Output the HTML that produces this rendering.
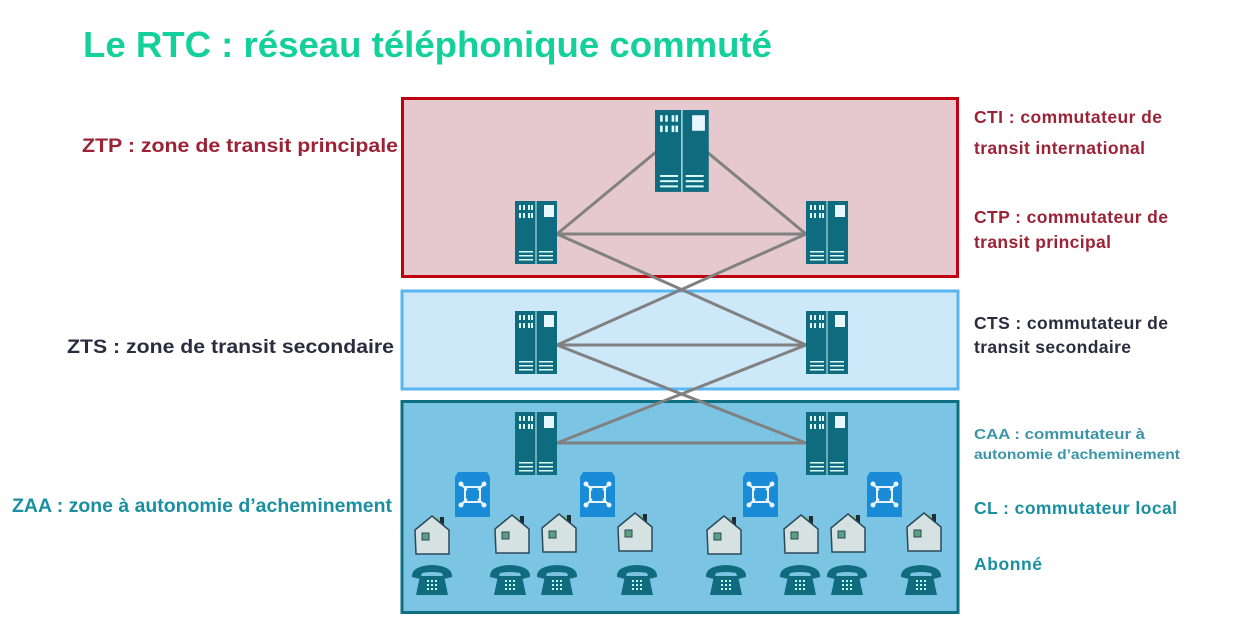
<!DOCTYPE html>
<html><head><meta charset="utf-8"><style>
html,body{margin:0;padding:0;background:#fff;width:1243px;height:627px;overflow:hidden}
text{font-family:"Liberation Sans",sans-serif;font-weight:bold}
</style></head><body>
<svg width="1243" height="627" viewBox="0 0 1243 627" xmlns="http://www.w3.org/2000/svg">
<defs>
<g id="srv">
 <rect x="0" y="0" width="42" height="63" fill="#0f6b7e"/>
 <line x1="21" y1="0" x2="21" y2="63" stroke="#cfeff5" stroke-width="1"/>
 <g fill="#dff" >
  <rect x="4" y="4" width="2" height="5"/><rect x="8" y="4" width="2" height="5"/><rect x="13" y="4" width="2" height="5"/><rect x="16" y="4" width="2" height="5"/>
  <rect x="4" y="12" width="2" height="5"/><rect x="8" y="12" width="2" height="5"/><rect x="13" y="12" width="2" height="5"/><rect x="16" y="12" width="2" height="5"/>
  <rect x="29" y="4" width="10" height="12" fill="#e8f6ff"/>
  <rect x="4" y="50" width="14" height="1.5"/><rect x="4" y="54" width="14" height="1.5"/><rect x="4" y="58" width="14" height="1.5"/>
  <rect x="24" y="50" width="14" height="1.5"/><rect x="24" y="54" width="14" height="1.5"/><rect x="24" y="58" width="14" height="1.5"/>
 </g>
</g>
<g id="cl">
 <path d="M3 0 H32 L35 5 V45 H0 V5 Z" fill="#1a8bd6"/>
 <g stroke="#e8f4ff" stroke-width="2" fill="none">
  <path d="M10 15 H25 V30 H10 Z" />
  <line x1="6" y1="12" x2="12" y2="18"/><line x1="29" y1="12" x2="23" y2="18"/>
  <line x1="6" y1="33" x2="12" y2="27"/><line x1="29" y1="33" x2="23" y2="27"/>
 </g>
 <g fill="#e8f4ff"><circle cx="6" cy="12" r="2.5"/><circle cx="29" cy="12" r="2.5"/><circle cx="6" cy="33" r="2.5"/><circle cx="29" cy="33" r="2.5"/></g>
</g>
<g id="house">
 <rect x="27" y="2" width="4" height="12" fill="#1f2b35"/>
 <rect x="23" y="3" width="4" height="8" fill="#6fbf9f"/>
 <path d="M2 15 L19 1 L36 15 V39 H3 Z" fill="#d6e2e2" stroke="#2a4a5a" stroke-width="1.5"/>
 <rect x="9" y="18" width="7" height="7" fill="#5aa27f" stroke="#2a4a5a" stroke-width="1"/>
</g>
<g id="phone">
 <path d="M0 12 Q-1 1 20 0 Q41 1 40 12 L32 14 L30 8 Q20 6 10 8 L8 14 Z" fill="#106b7e"/>
 <path d="M8 11 H32 L36 30 H4 Z" fill="#106b7e"/>
 <g fill="#bfe"><rect x="15" y="15" width="2" height="2"/><rect x="19" y="15" width="2" height="2"/><rect x="23" y="15" width="2" height="2"/>
 <rect x="15" y="19" width="2" height="2"/><rect x="19" y="19" width="2" height="2"/><rect x="23" y="19" width="2" height="2"/>
 <rect x="15" y="23" width="2" height="2"/><rect x="19" y="23" width="2" height="2"/><rect x="23" y="23" width="2" height="2"/></g>
</g>
</defs>

<text x="83" y="57" font-size="36" fill="#14d19c" textLength="689" lengthAdjust="spacingAndGlyphs">Le RTC : réseau téléphonique commuté</text>

<rect x="402.5" y="98.5" width="555" height="178" fill="#e6c9ce" stroke="#c00010" stroke-width="3"/>
<rect x="402" y="291" width="556" height="98" fill="#cce8f9" stroke="#58b6f2" stroke-width="3"/>
<rect x="402" y="401.5" width="556" height="211" fill="#7cc4e4" stroke="#0e6f80" stroke-width="3"/>

<g stroke="#818181" stroke-width="3">
 <line x1="656" y1="152" x2="557" y2="234"/>
 <line x1="707" y1="152" x2="806" y2="234"/>
 <line x1="557" y1="234" x2="806" y2="234"/>
 <line x1="557" y1="234" x2="806" y2="345"/>
 <line x1="806" y1="234" x2="557" y2="345"/>
 <line x1="557" y1="345" x2="806" y2="345"/>
 <line x1="557" y1="345" x2="806" y2="443"/>
 <line x1="806" y1="345" x2="557" y2="443"/>
 <line x1="557" y1="443" x2="806" y2="443"/>
</g>

<use href="#srv" transform="translate(655,110) scale(1.28,1.3)"/>
<use href="#srv" x="515" y="201"/><use href="#srv" x="806" y="201"/>
<use href="#srv" x="515" y="311"/><use href="#srv" x="806" y="311"/>
<use href="#srv" x="515" y="412"/><use href="#srv" x="806" y="412"/>

<use href="#cl" x="455" y="472"/><use href="#cl" x="580" y="472"/>
<use href="#cl" x="743" y="472"/><use href="#cl" x="867" y="472"/>

<use href="#house" x="413" y="515"/><use href="#house" x="493" y="514"/><use href="#house" x="540" y="513"/><use href="#house" x="616" y="512"/>
<use href="#house" x="705" y="515"/><use href="#house" x="782" y="514"/><use href="#house" x="829" y="513"/><use href="#house" x="905" y="512"/>

<use href="#phone" x="412" y="565"/><use href="#phone" x="490" y="565"/><use href="#phone" x="537" y="565"/><use href="#phone" x="617" y="565"/>
<use href="#phone" x="706" y="565"/><use href="#phone" x="780" y="565"/><use href="#phone" x="827" y="565"/><use href="#phone" x="901" y="565"/>

<text x="82" y="152" font-size="19" fill="#9b2335" textLength="316" lengthAdjust="spacingAndGlyphs">ZTP : zone de transit principale</text>
<text x="67" y="353" font-size="19" fill="#2b2d3f" textLength="327" lengthAdjust="spacingAndGlyphs">ZTS : zone de transit secondaire</text>
<text x="12" y="512" font-size="19" fill="#1a8fa0" textLength="380" lengthAdjust="spacingAndGlyphs">ZAA : zone à autonomie d’acheminement</text>

<g font-size="17.5" lengthAdjust="spacingAndGlyphs">
<text x="974" y="123" fill="#9b2335" textLength="188">CTI : commutateur de</text>
<text x="974" y="154" fill="#9b2335" textLength="171">transit international</text>
<text x="974" y="223" fill="#9b2335" textLength="194">CTP : commutateur de</text>
<text x="974" y="248" fill="#9b2335" textLength="137">transit principal</text>
<text x="974" y="329" fill="#2b2d3f" textLength="194">CTS : commutateur de</text>
<text x="974" y="353" fill="#2b2d3f" textLength="157">transit secondaire</text>
<text x="974" y="514" fill="#1a8fa0" textLength="203">CL : commutateur local</text>
<text x="974" y="570" fill="#1a8fa0" textLength="68">Abonné</text>
</g>
<text x="974" y="439" font-size="14.5" fill="#3a95a8" textLength="171" lengthAdjust="spacingAndGlyphs">CAA : commutateur à</text>
<text x="974" y="459" font-size="13.5" fill="#3a95a8" textLength="206" lengthAdjust="spacingAndGlyphs">autonomie d’acheminement</text>
</svg>
</body></html>
